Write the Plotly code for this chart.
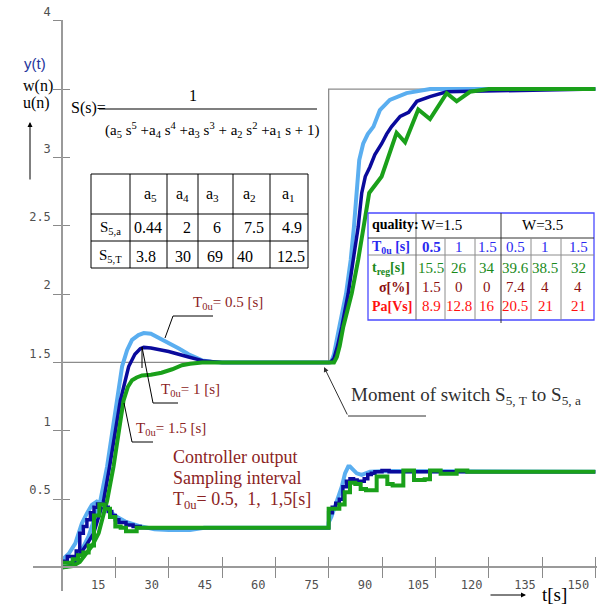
import plotly.graph_objects as go

# ---------------------------------------------------------------- geometry
W, H = 597, 608
ML, MR, MT, MB = 33, 0, 20, 17
X_RANGE = [-8.156, 150.47]
Y_RANGE = [-0.172, 4.005]
X_POS = -X_RANGE[0] / (X_RANGE[1] - X_RANGE[0])   # where t = 0 sits
Y_POS = -Y_RANGE[0] / (Y_RANGE[1] - Y_RANGE[0])   # where y = 0 sits


def px(x):
    """canvas pixel column -> paper x"""
    return (x - ML) / (W - ML - MR)


def py(y):
    """canvas pixel row -> paper y"""
    return (H - MB - y) / (H - MT - MB)


SERIF = "Liberation Serif"
DARKRED = "#8b2323"
C_FAST = "#5aaef0"    # T0u = 0.5 s
C_MID = "#0a0a9c"     # T0u = 1 s
C_SLOW = "#1aa01a"    # T0u = 1.5 s
GRAY = "#8c8c8c"

# ---------------------------------------------------------------- data
# setpoint w(n)
w_t = [0, 0, 75, 75, 150]
w_v = [0, 1.5, 1.5, 3.5, 3.5]

# plant output y(t), T0u = 0.5 s
y05_t = [0, 1.5, 3, 4.5, 6, 7.5, 9, 10.8, 12.7, 14.1, 15.5, 16.9, 18.3, 19.7, 21.5, 23, 25,
         28, 30, 33, 35.6, 39.4, 42, 45, 75, 75.8, 76.5, 77.2, 78.0, 79.9, 81.2, 82.1,
         82.9, 83.6, 84.7, 86.0, 87.6, 89.4, 92.2, 96.9, 103.5, 150]
y05_v = [0, 0.01, 0.04, 0.10, 0.15, 0.23, 0.35, 0.49, 0.74, 0.98, 1.22, 1.47, 1.59, 1.665,
         1.70, 1.715, 1.71, 1.67, 1.64, 1.60, 1.56, 1.515, 1.505, 1.50, 1.50, 1.51, 1.56,
         1.64, 1.76, 2.005, 2.25, 2.49, 2.74, 2.98, 3.10, 3.17, 3.225, 3.345, 3.42, 3.47,
         3.50, 3.50]

# plant output y(t), T0u = 1 s
y10_t = [0, 2, 3.5, 5.2, 7, 8.9, 10.3, 11.7, 13.4, 14.8, 16.4, 18.75, 20.5, 22, 23, 25, 30,
         35.6, 40, 45, 75.5, 76.5, 77.5, 78.7, 80.5, 81.9, 83.3, 84.3, 85.3, 86.6, 88.0,
         89.9, 91.3, 92.7, 95.1, 97.5, 99.8, 103.5, 108.2, 150]
y10_v = [0, 0.01, 0.04, 0.10, 0.17, 0.25, 0.36, 0.49, 0.74, 0.98, 1.22, 1.47, 1.56, 1.60,
         1.61, 1.605, 1.58, 1.54, 1.51, 1.50, 1.50, 1.53, 1.62, 1.76, 2.005, 2.25, 2.49,
         2.74, 2.86, 2.93, 3.02, 3.10, 3.17, 3.225, 3.30, 3.33, 3.41, 3.445, 3.48, 3.50]

# plant output y(t), T0u = 1.5 s
y15_t = [0, 3, 5, 6.6, 8.5, 10.3, 12.7, 14.5, 15.9, 17.3, 18.5, 19.7, 21, 22.5, 25, 28, 31,
         33.75, 36, 39.4, 45, 76.5, 77.3, 78.1, 79.1, 81.5, 83.3, 84.7, 86.4, 89.9, 94.1,
         96.5, 100.2, 103.5, 108.2, 111.0, 114.75, 120, 150]
y15_v = [0, 0.01, 0.04, 0.09, 0.16, 0.25, 0.49, 0.74, 0.98, 1.22, 1.32, 1.37, 1.39, 1.405,
         1.41, 1.425, 1.45, 1.48, 1.49, 1.50, 1.50, 1.50, 1.54, 1.62, 1.76, 2.005, 2.25,
         2.49, 2.74, 2.86, 3.18, 3.11, 3.35, 3.28, 3.47, 3.41, 3.48, 3.50, 3.50]

# controller output u(n), T0u = 0.5 s
u05_t = [0, 1.9, 3.75, 4.7, 5.6, 7, 8.4, 9.8, 11.25, 13.1, 15, 17.8, 21.6, 26, 30, 36, 40,
         74.9, 75.0, 75.8, 76.8, 77.7, 78.7, 79.6, 80.5, 81.0, 82.9, 84.3, 86.6, 91.3, 150]
u05_v = [0.055, 0.10, 0.177, 0.25, 0.323, 0.396, 0.457, 0.482, 0.465, 0.421, 0.377, 0.336,
         0.304, 0.28, 0.275, 0.275, 0.29, 0.29, 0.33, 0.373, 0.445, 0.518, 0.591, 0.689,
         0.738, 0.738, 0.689, 0.677, 0.701, 0.705, 0.70]

# controller output u(n), T0u = 1 s (zero-order hold)
u10_t = [0, 1.5, 4, 5, 6, 7, 8, 9, 10, 11, 12, 13, 14, 15, 16, 18, 20, 22,
         75, 76, 77, 78, 79, 80, 81, 82, 83, 84, 85, 86, 87, 88, 90, 92, 95, 150]
u10_v = [0.045, 0.08, 0.12, 0.25, 0.30, 0.35, 0.40, 0.44, 0.465, 0.465, 0.44, 0.41, 0.38,
         0.35, 0.33, 0.31, 0.30, 0.29,
         0.40, 0.44, 0.47, 0.50, 0.59, 0.63, 0.65, 0.64, 0.63, 0.63, 0.65, 0.68, 0.69, 0.70,
         0.71, 0.70, 0.70, 0.70]

# controller output u(n), T0u = 1.5 s (zero-order hold)
u15_t = [0, 3, 4.5, 6, 7.5, 9, 10.5, 12, 13.5, 15, 16.5, 18, 19.5, 21, 22.5,
         75, 76.5, 78, 79.5, 81, 82.5, 84, 85.5, 87, 88.5, 90, 91.5, 93, 94.5, 96, 97.5, 99,
         100.5, 102, 103.5, 105, 106.5, 108, 109.5, 111, 112.5, 114, 150]
u15_v = [0.035, 0.06, 0.09, 0.11, 0.16, 0.38, 0.46, 0.43, 0.37, 0.30, 0.29, 0.265, 0.265,
         0.29, 0.29,
         0.43, 0.43, 0.46, 0.55, 0.62, 0.61, 0.575, 0.565, 0.565, 0.665, 0.665, 0.61, 0.60,
         0.60, 0.71, 0.71, 0.64, 0.64, 0.645, 0.71, 0.71, 0.685, 0.685, 0.685, 0.71, 0.71,
         0.70, 0.70]

x_ticks = [15, 30, 45, 60, 75, 90, 105, 120, 135, 150]
y_ticks = [0.5, 1, 1.5, 2, 2.5, 3, 3.5, 4]
y_ticktext = ["0.5", "1", "1.5", "2", "2.5", "3", "", "4"]

# coefficient table of the two plant models
coef_head = ["a<sub>5</sub>", "a<sub>4</sub>", "a<sub>3</sub>", "a<sub>2</sub>", "a<sub>1</sub>"]
coef_rows = ["S<sub>5,a</sub>", "S<sub>5,T</sub>"]
coef_a = ["0.44", "2", "6", "7.5", "4.9"]
coef_T = ["3.8", "30", "69", "40", "12.5"]

# control quality table
q_T0u = ["0.5", "1", "1.5", "0.5", "1", "1.5"]
q_treg = ["15.5", "26", "34", "39.6", "38.5", "32"]
q_sigma = ["1.5", "0", "0", "7.4", "4", "4"]
q_pa = ["8.9", "12.8", "16", "20.5", "21", "21"]

# ---------------------------------------------------------------- figure
fig = go.Figure()

fig.add_trace(go.Scatter(x=w_t, y=w_v, mode="lines", line=dict(color=GRAY, width=1.3),
                         hoverinfo="skip", showlegend=False))


def curve(t, v, color, width, shape="linear"):
    fig.add_trace(go.Scatter(x=t, y=v, mode="lines",
                             line=dict(color=color, width=width, shape=shape),
                             xaxis="x2", yaxis="y2", hoverinfo="skip", showlegend=False))


curve(y05_t, y05_v, C_FAST, 4)
curve(y10_t, y10_v, C_MID, 3.5)
curve(y15_t, y15_v, C_SLOW, 4)
curve(u05_t, u05_v, C_FAST, 4)
curve(u10_t, u10_v, C_MID, 3.5, "hv")
curve(u15_t, u15_v, C_SLOW, 4, "hv")

tickfont = dict(family="DejaVu Sans Mono", size=12, color="#505050")
common = dict(showgrid=False, zeroline=False, fixedrange=True)

fig.update_layout(
    width=W, height=H, margin=dict(l=ML, r=MR, t=MT, b=MB),
    paper_bgcolor="white", plot_bgcolor="white", showlegend=False,
    xaxis=dict(range=X_RANGE, anchor="free", position=Y_POS, showline=True,
               linecolor="#9a9a9a", linewidth=1.5, ticks="outside", ticklen=10,
               tickwidth=1.3, tickcolor="#8a8a8a", tickvals=x_ticks,
               ticklabelshift=-17, ticklabelstandoff=-4, tickfont=tickfont, **common),
    yaxis=dict(range=Y_RANGE, anchor="free", position=X_POS, showline=True,
               linecolor="#9a9a9a", linewidth=1.5, ticks="outside", ticklen=8,
               tickwidth=1.3, tickcolor="#8a8a8a", tickvals=y_ticks, ticktext=y_ticktext,
               ticklabelshift=-9, tickfont=tickfont, **common),
    xaxis2=dict(range=X_RANGE, overlaying="x", anchor="free", position=Y_POS,
                showline=False, ticks="inside", ticklen=10, tickwidth=1.3,
                tickcolor="#8a8a8a", tickvals=x_ticks, showticklabels=False, **common),
    yaxis2=dict(range=Y_RANGE, overlaying="y", anchor="free", position=X_POS,
                showline=False, ticks="inside", ticklen=7, tickwidth=1.3,
                tickcolor="#8a8a8a", tickvals=y_ticks, showticklabels=False, **common),
)

shapes = []
annos = []


def line(x0, y0, x1, y1, color="black", width=1):
    shapes.append(dict(type="line", xref="paper", yref="paper", x0=px(x0), y0=py(y0),
                       x1=px(x1), y1=py(y1), line=dict(color=color, width=width),
                       layer="above"))


def rect(x0, y0, x1, y1, color="black", width=1, fill="white"):
    shapes.append(dict(type="rect", xref="paper", yref="paper", x0=px(x0), y0=py(y0),
                       x1=px(x1), y1=py(y1), line=dict(color=color, width=width),
                       fillcolor=fill, layer="above"))


def text(x, y, s, size=15, color="black", xanchor="center", family=SERIF):
    annos.append(dict(xref="paper", yref="paper", x=px(x), y=py(y), text=s,
                      showarrow=False, xanchor=xanchor, yanchor="middle",
                      font=dict(family=family, size=size, color=color)))


def arrow(xh, yh, xt, yt, color="black"):
    annos.append(dict(xref="paper", yref="paper", x=px(xh), y=py(yh), ax=xt - xh,
                      ay=yt - yh, text="", showarrow=True, arrowhead=2, arrowsize=1,
                      arrowwidth=1, arrowcolor=color))


# axis titles
text(22, 64, "y(t)", 15, "#26359c", "left", "Liberation Sans")
text(21, 86, "w(n)", 16, "black", "left")
text(21, 103, "u(n)", 16, "black", "left")
arrow(30, 122, 30, 181)

# transfer function
text(69, 108, "S(s)=", 16, "black", "left")
line(99, 109, 317, 109, width=1.2)
text(193, 95, "1", 16)
text(212, 130, "(a<sub>5</sub> s<sup>5</sup> +a<sub>4</sub> s<sup>4</sup> +a<sub>3</sub> "
               "s<sup>3</sup> + a<sub>2</sub> s<sup>2</sup> +a<sub>1</sub> s + 1)", 15)

# coefficient table
rect(91, 174, 308, 268)
line(91, 214, 308, 214)
line(91, 241, 308, 241)
for xv in [130, 167, 198, 233, 270]:
    line(xv, 174, xv, 268)
for xc, s in zip([150, 182, 212, 250, 288], coef_head):
    text(xc, 194, s, 16)
text(110, 228, coef_rows[0], 15)
text(110, 256, coef_rows[1], 15)
for xc, s in zip([148, 187, 217, 254, 292], coef_a):
    text(xc, 227, s, 16)
for xc, s in zip([146, 183, 215, 245, 291], coef_T):
    text(xc, 256, s, 16)

# quality table
BLUE_T = "#2a2af0"
rect(368, 213, 594, 320, color="#4a4aff", width=1.3)
line(368, 238, 594, 238, "#333333")
line(368, 255, 594, 255, "#8c8c8c")
line(416, 213, 416, 320, "#6a6a6a")
line(501, 213, 501, 323, "#333333")
for xv in [445, 475, 531, 561]:
    line(xv, 238, xv, 320, "#8c8c8c")
text(370, 225, "<b>quality:</b>", 14, "black", "left")
text(441, 225, "W=1.5", 15)
text(542, 225, "W=3.5", 15)
text(370, 247, "<b>T<sub>0u</sub> [s]</b>", 14, BLUE_T, "left")
text(370, 268, "<b>t<sub>reg</sub>[s]</b>", 14, "#1a8a1a", "left")
text(377, 287, "<b>σ[%]</b>", 14, "#8b1010", "left")
text(370, 306, "<b>Pa[Vs]</b>", 14, "#ff1010", "left")
col_x = [431, 459, 487, 515, 545, 578]
for i, xc in enumerate(col_x):
    t0 = f"<b>{q_T0u[i]}</b>" if i == 0 else q_T0u[i]
    text(xc, 247, t0, 15, BLUE_T)
    text(xc, 268, q_treg[i], 15, "#1a8a1a")
    text(xc, 287, q_sigma[i], 15, "#8b1010")
    text(xc, 306, q_pa[i], 15, "#ff1010")

# sampling-interval callouts
text(191, 303, "T<sub>0u</sub>= 0.5 [s]", 15, DARKRED, "left")
line(213, 316, 173, 316)
line(173, 316, 165, 338)
text(159, 390, "T<sub>0u</sub>= 1 [s]", 15, DARKRED, "left")
line(178, 403, 153, 403)
line(153, 403, 142, 347)
line(142, 347, 142, 368)
text(134, 429, "T<sub>0u</sub>= 1.5 [s]", 15, DARKRED, "left")
line(153, 442, 132, 442)
line(132, 442, 124, 403)

text(171, 457, "Controller output", 18, DARKRED, "left")
text(171, 478, "Sampling interval", 18, DARKRED, "left")
text(171, 500, "T<sub>0u</sub>= 0.5,  1,  1,5[s]", 18, DARKRED, "left")

# model switch marker
text(349, 396, "Moment of switch S<sub>5, T</sub> to S<sub>5, a</sub>", 19, "#303030", "left")
line(348, 416, 426, 416, "#303030")
arrow(324, 367, 348, 416, "#303030")

# time axis title
arrow(526, 595, 489, 595)
text(540, 594, "t[s]", 19, "black", "left")

fig.update_layout(shapes=shapes, annotations=annos)
fig.write_html("out.html")
